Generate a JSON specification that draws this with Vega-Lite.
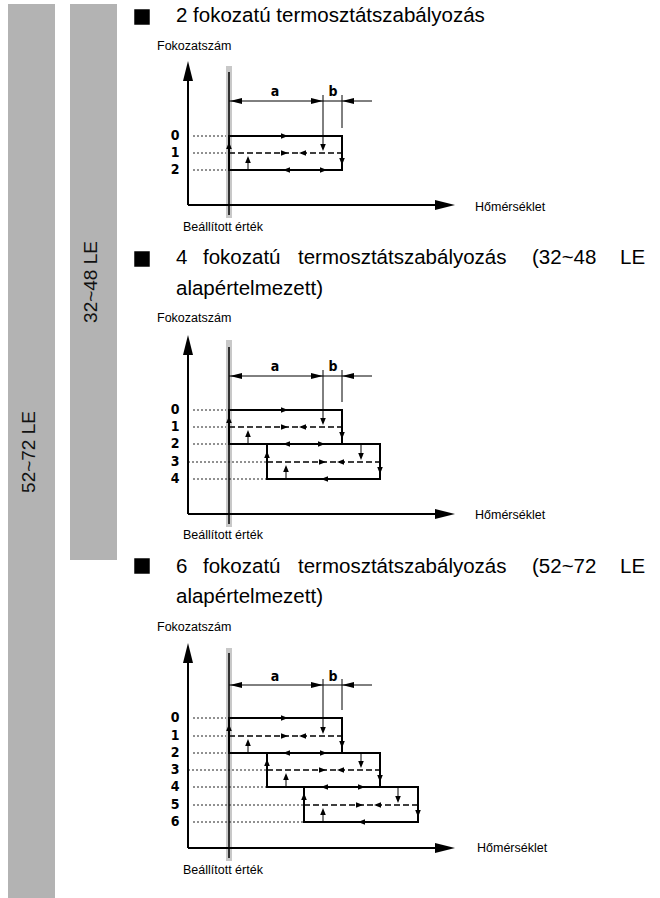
{
  "$schema": "https://vega.github.io/schema/vega-lite/v6.json",
  "width": 660,
  "height": 898,
  "padding": 0,
  "autosize": {"type": "fit", "contains": "padding"},
  "background": "white",
  "config": {"view": {"stroke": null}},
  "datasets": {
    "bars": [{"x": 8, "x2": 55, "y": 4, "y2": 898}, {"x": 70, "x2": 117, "y": 4, "y2": 560}],
    "bands": [{"x": 226, "x2": 232, "y": 66, "y2": 218}, {"x": 226, "x2": 232, "y": 340, "y2": 527}, {"x": 226, "x2": 232, "y": 648, "y2": 861}],
    "setpoint": [{"x": 229, "x2": 229, "y": 72, "y2": 215}, {"x": 229, "x2": 229, "y": 347, "y2": 524}, {"x": 229, "x2": 229, "y": 653, "y2": 858}],
    "thin": [
      {"x": 229, "x2": 372, "y": 101, "y2": 101}, {"x": 323, "x2": 323, "y": 95, "y2": 146}, {"x": 342, "x2": 342, "y": 95, "y2": 128}, {"x": 248, "x2": 248, "y": 170, "y2": 160},
      {"x": 229, "x2": 372, "y": 376, "y2": 376}, {"x": 323, "x2": 323, "y": 370, "y2": 420}, {"x": 342, "x2": 342, "y": 370, "y2": 402}, {"x": 361, "x2": 361, "y": 444, "y2": 455}, {"x": 248, "x2": 248, "y": 444, "y2": 434}, {"x": 286, "x2": 286, "y": 479, "y2": 469},
      {"x": 229, "x2": 372, "y": 685, "y2": 685}, {"x": 323, "x2": 323, "y": 679, "y2": 729}, {"x": 342, "x2": 342, "y": 679, "y2": 710}, {"x": 361, "x2": 361, "y": 753, "y2": 763}, {"x": 398, "x2": 398, "y": 787, "y2": 798}, {"x": 248, "x2": 248, "y": 753, "y2": 743}, {"x": 286, "x2": 286, "y": 787, "y2": 777}, {"x": 323, "x2": 323, "y": 822, "y2": 812}
    ],
    "dotted": [
      {"x": 193, "x2": 226, "y": 136, "y2": 136}, {"x": 193, "x2": 226, "y": 153, "y2": 153}, {"x": 193, "x2": 226, "y": 170, "y2": 170},
      {"x": 193, "x2": 226, "y": 410, "y2": 410}, {"x": 193, "x2": 226, "y": 427, "y2": 427}, {"x": 193, "x2": 226, "y": 444, "y2": 444}, {"x": 188, "x2": 267, "y": 462, "y2": 462}, {"x": 193, "x2": 267, "y": 479, "y2": 479},
      {"x": 193, "x2": 226, "y": 718, "y2": 718}, {"x": 193, "x2": 226, "y": 736, "y2": 736}, {"x": 193, "x2": 226, "y": 753, "y2": 753}, {"x": 188, "x2": 267, "y": 770, "y2": 770}, {"x": 193, "x2": 267, "y": 787, "y2": 787}, {"x": 193, "x2": 304, "y": 805, "y2": 805}, {"x": 193, "x2": 304, "y": 822, "y2": 822}
    ],
    "dashed": [
      {"x": 229, "x2": 342, "y": 153, "y2": 153},
      {"x": 229, "x2": 342, "y": 427, "y2": 427}, {"x": 267, "x2": 380, "y": 462, "y2": 462},
      {"x": 229, "x2": 342, "y": 736, "y2": 736}, {"x": 267, "x2": 380, "y": 770, "y2": 770}, {"x": 304, "x2": 418, "y": 805, "y2": 805}
    ],
    "solid": [
      {"x": 229, "x2": 342, "y": 136, "y2": 136}, {"x": 229, "x2": 342, "y": 170, "y2": 170}, {"x": 229, "x2": 229, "y": 136, "y2": 170}, {"x": 342, "x2": 342, "y": 136, "y2": 170},
      {"x": 229, "x2": 342, "y": 410, "y2": 410}, {"x": 229, "x2": 380, "y": 444, "y2": 444}, {"x": 267, "x2": 380, "y": 479, "y2": 479}, {"x": 229, "x2": 229, "y": 410, "y2": 444}, {"x": 342, "x2": 342, "y": 410, "y2": 444}, {"x": 267, "x2": 267, "y": 444, "y2": 479}, {"x": 380, "x2": 380, "y": 444, "y2": 479},
      {"x": 229, "x2": 342, "y": 718, "y2": 718}, {"x": 229, "x2": 380, "y": 753, "y2": 753}, {"x": 267, "x2": 418, "y": 787, "y2": 787}, {"x": 304, "x2": 418, "y": 822, "y2": 822}, {"x": 229, "x2": 229, "y": 718, "y2": 753}, {"x": 342, "x2": 342, "y": 718, "y2": 753}, {"x": 267, "x2": 267, "y": 753, "y2": 787}, {"x": 380, "x2": 380, "y": 753, "y2": 787}, {"x": 304, "x2": 304, "y": 787, "y2": 822}, {"x": 418, "x2": 418, "y": 787, "y2": 822}
    ],
    "axes": [
      {"x": 188, "x2": 188, "y": 78, "y2": 205}, {"x": 188, "x2": 437, "y": 205, "y2": 205},
      {"x": 188, "x2": 188, "y": 352, "y2": 514}, {"x": 188, "x2": 437, "y": 514, "y2": 514},
      {"x": 188, "x2": 188, "y": 660, "y2": 848}, {"x": 188, "x2": 437, "y": 848, "y2": 848}
    ],
    "axisArrows": [
      {"x": 188, "y": 61, "dir": "U"}, {"x": 455, "y": 205, "dir": "R"},
      {"x": 188, "y": 335, "dir": "U"}, {"x": 455, "y": 514, "dir": "R"},
      {"x": 188, "y": 643, "dir": "U"}, {"x": 455, "y": 848, "dir": "R"}
    ],
    "dimArrows": [
      {"x": 230, "y": 101, "dir": "L"}, {"x": 323, "y": 101, "dir": "R"}, {"x": 342, "y": 101, "dir": "L"},
      {"x": 230, "y": 376, "dir": "L"}, {"x": 323, "y": 376, "dir": "R"}, {"x": 342, "y": 376, "dir": "L"},
      {"x": 230, "y": 685, "dir": "L"}, {"x": 323, "y": 685, "dir": "R"}, {"x": 342, "y": 685, "dir": "L"}
    ],
    "arrows": [
      {"x": 288, "y": 136, "dir": "r"}, {"x": 288, "y": 153, "dir": "r"}, {"x": 327, "y": 170, "dir": "r"},
      {"x": 299, "y": 153, "dir": "l"}, {"x": 283, "y": 170, "dir": "l"},
      {"x": 323, "y": 151, "dir": "d"}, {"x": 342, "y": 165, "dir": "d"},
      {"x": 229, "y": 142, "dir": "u"}, {"x": 248, "y": 156, "dir": "u"},
      {"x": 288, "y": 410, "dir": "r"}, {"x": 288, "y": 427, "dir": "r"}, {"x": 325, "y": 444, "dir": "r"}, {"x": 326, "y": 462, "dir": "r"},
      {"x": 299, "y": 427, "dir": "l"}, {"x": 283, "y": 444, "dir": "l"}, {"x": 337, "y": 462, "dir": "l"}, {"x": 321, "y": 479, "dir": "l"},
      {"x": 323, "y": 425, "dir": "d"}, {"x": 342, "y": 439, "dir": "d"}, {"x": 361, "y": 460, "dir": "d"}, {"x": 380, "y": 474, "dir": "d"},
      {"x": 229, "y": 416, "dir": "u"}, {"x": 248, "y": 430, "dir": "u"}, {"x": 267, "y": 451, "dir": "u"}, {"x": 286, "y": 465, "dir": "u"},
      {"x": 288, "y": 718, "dir": "r"}, {"x": 288, "y": 736, "dir": "r"}, {"x": 327, "y": 753, "dir": "r"}, {"x": 326, "y": 770, "dir": "r"}, {"x": 365, "y": 787, "dir": "r"}, {"x": 363, "y": 805, "dir": "r"},
      {"x": 299, "y": 736, "dir": "l"}, {"x": 283, "y": 753, "dir": "l"}, {"x": 337, "y": 770, "dir": "l"}, {"x": 321, "y": 787, "dir": "l"}, {"x": 374, "y": 805, "dir": "l"}, {"x": 358, "y": 822, "dir": "l"},
      {"x": 323, "y": 734, "dir": "d"}, {"x": 342, "y": 748, "dir": "d"}, {"x": 361, "y": 768, "dir": "d"}, {"x": 380, "y": 782, "dir": "d"}, {"x": 398, "y": 803, "dir": "d"}, {"x": 418, "y": 817, "dir": "d"},
      {"x": 229, "y": 724, "dir": "u"}, {"x": 248, "y": 739, "dir": "u"}, {"x": 267, "y": 759, "dir": "u"}, {"x": 286, "y": 773, "dir": "u"}, {"x": 304, "y": 793, "dir": "u"}, {"x": 323, "y": 808, "dir": "u"}
    ],
    "bullets": [{"x": 142, "y": 17}, {"x": 142, "y": 259}, {"x": 142, "y": 566}],
    "headings": [
      {"x": 176, "y": 16, "t": "2 fokozatú termosztátszabályozás"},
      {"x": 176, "y": 258, "t": "4"}, {"x": 203, "y": 258, "t": "fokozatú"}, {"x": 298, "y": 258, "t": "termosztátszabályozás"}, {"x": 532, "y": 258, "t": "(32~48"}, {"x": 620, "y": 258, "t": "LE"},
      {"x": 176, "y": 289, "t": "alapértelmezett)"},
      {"x": 176, "y": 567, "t": "6"}, {"x": 203, "y": 567, "t": "fokozatú"}, {"x": 298, "y": 567, "t": "termosztátszabályozás"}, {"x": 532, "y": 567, "t": "(52~72"}, {"x": 620, "y": 567, "t": "LE"},
      {"x": 176, "y": 597, "t": "alapértelmezett)"}
    ],
    "labels": [
      {"x": 157, "y": 46, "t": "Fokozatszám"}, {"x": 475, "y": 207, "t": "Hőmérséklet"}, {"x": 183, "y": 227, "t": "Beállított érték"},
      {"x": 157, "y": 318, "t": "Fokozatszám"}, {"x": 475, "y": 515, "t": "Hőmérséklet"}, {"x": 183, "y": 535, "t": "Beállított érték"},
      {"x": 157, "y": 627, "t": "Fokozatszám"}, {"x": 477, "y": 848, "t": "Hőmérséklet"}, {"x": 183, "y": 870, "t": "Beállított érték"}
    ],
    "boldLabels": [
      {"x": 275, "y": 92, "t": "a"}, {"x": 333, "y": 92, "t": "b"},
      {"x": 175, "y": 136, "t": "0"}, {"x": 175, "y": 153, "t": "1"}, {"x": 175, "y": 170, "t": "2"},
      {"x": 275, "y": 367, "t": "a"}, {"x": 333, "y": 367, "t": "b"},
      {"x": 175, "y": 410, "t": "0"}, {"x": 175, "y": 427, "t": "1"}, {"x": 175, "y": 444, "t": "2"}, {"x": 175, "y": 462, "t": "3"}, {"x": 175, "y": 479, "t": "4"},
      {"x": 275, "y": 677, "t": "a"}, {"x": 333, "y": 677, "t": "b"},
      {"x": 175, "y": 718, "t": "0"}, {"x": 175, "y": 736, "t": "1"}, {"x": 175, "y": 753, "t": "2"}, {"x": 175, "y": 770, "t": "3"}, {"x": 175, "y": 787, "t": "4"}, {"x": 175, "y": 805, "t": "5"}, {"x": 175, "y": 822, "t": "6"}
    ],
    "side": [{"x": 29, "y": 452, "t": "52~72 LE"}, {"x": 91, "y": 282, "t": "32~48 LE"}]
  },
  "encoding": {
    "x": {"field": "x", "type": "quantitative", "scale": {"domain": [0, 660], "nice": false, "zero": false}, "axis": null},
    "y": {"field": "y", "type": "quantitative", "scale": {"domain": [0, 898], "nice": false, "zero": false, "reverse": true}, "axis": null}
  },
  "layer": [
    {"data": {"name": "bars"}, "mark": {"type": "rect", "color": "#b3b3b3"}, "encoding": {"x2": {"field": "x2"}, "y2": {"field": "y2"}}},
    {"data": {"name": "bands"}, "mark": {"type": "rect", "color": "#c8c8c8"}, "encoding": {"x2": {"field": "x2"}, "y2": {"field": "y2"}}},
    {"data": {"name": "dotted"}, "mark": {"type": "rule", "color": "#222", "strokeWidth": 1, "strokeDash": [2, 2]}, "encoding": {"x2": {"field": "x2"}, "y2": {"field": "y2"}}},
    {"data": {"name": "thin"}, "mark": {"type": "rule", "color": "#000", "strokeWidth": 1}, "encoding": {"x2": {"field": "x2"}, "y2": {"field": "y2"}}},
    {"data": {"name": "setpoint"}, "mark": {"type": "rule", "color": "#000", "strokeWidth": 1.5}, "encoding": {"x2": {"field": "x2"}, "y2": {"field": "y2"}}},
    {"data": {"name": "dashed"}, "mark": {"type": "rule", "color": "#000", "strokeWidth": 1.6, "strokeDash": [6, 3]}, "encoding": {"x2": {"field": "x2"}, "y2": {"field": "y2"}}},
    {"data": {"name": "solid"}, "mark": {"type": "rule", "color": "#000", "strokeWidth": 2, "strokeCap": "square"}, "encoding": {"x2": {"field": "x2"}, "y2": {"field": "y2"}}},
    {"data": {"name": "axes"}, "mark": {"type": "rule", "color": "#000", "strokeWidth": 2}, "encoding": {"x2": {"field": "x2"}, "y2": {"field": "y2"}}},
    {"data": {"name": "arrows"}, "mark": {"type": "point", "filled": true, "color": "#000", "opacity": 1, "size": 196, "strokeWidth": 0},
      "encoding": {"shape": {"field": "dir", "type": "nominal", "legend": null,
        "scale": {"domain": ["r", "l", "u", "d", "R", "L", "U", "D"], "range": ["M0,0L-1,-0.4L-1,0.4Z", "M0,0L1,-0.4L1,0.4Z", "M0,0L-0.4,1L0.4,1Z", "M0,0L-0.4,-1L0.4,-1Z", "M0,0L-1,-0.25L-1,0.25Z", "M0,0L1,-0.25L1,0.25Z", "M0,0L-0.25,1L0.25,1Z", "M0,0L-0.25,-1L0.25,-1Z"]}}}},
    {"data": {"name": "dimArrows"}, "mark": {"type": "point", "filled": true, "color": "#000", "opacity": 1, "size": 576, "strokeWidth": 0},
      "encoding": {"shape": {"field": "dir", "type": "nominal", "legend": null}}},
    {"data": {"name": "axisArrows"}, "mark": {"type": "point", "filled": true, "color": "#000", "opacity": 1, "size": 1600, "strokeWidth": 0},
      "encoding": {"shape": {"field": "dir", "type": "nominal", "legend": null}}},
    {"data": {"name": "bullets"}, "mark": {"type": "point", "shape": "square", "filled": true, "color": "#000", "opacity": 1, "size": 240, "strokeWidth": 0}},
    {"data": {"name": "headings"}, "mark": {"type": "text", "align": "left", "baseline": "middle", "font": "Liberation Sans", "fontSize": 20.5, "color": "#000"}, "encoding": {"text": {"field": "t"}}},
    {"data": {"name": "labels"}, "mark": {"type": "text", "align": "left", "baseline": "middle", "font": "Liberation Sans", "fontSize": 12.5, "color": "#000"}, "encoding": {"text": {"field": "t"}}},
    {"data": {"name": "boldLabels"}, "mark": {"type": "text", "align": "center", "baseline": "middle", "font": "Liberation Sans Narrow, DejaVu Sans Condensed, sans-serif", "fontWeight": "bold", "fontSize": 14, "color": "#000"}, "encoding": {"text": {"field": "t"}}},
    {"data": {"name": "side"}, "mark": {"type": "text", "align": "center", "baseline": "middle", "angle": 270, "font": "Liberation Sans", "fontSize": 19, "color": "#111"}, "encoding": {"text": {"field": "t"}}}
  ]
}
